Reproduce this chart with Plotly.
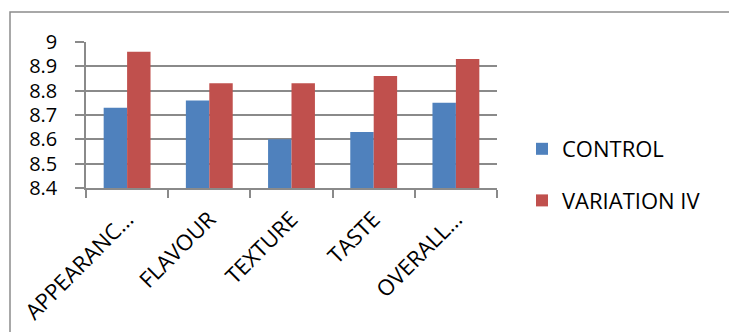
import plotly.graph_objects as go

# Sensory scores per attribute
categories = ["APPEARANC…", "FLAVOUR", "TEXTURE", "TASTE", "OVERALL…"]
control = [8.73, 8.76, 8.60, 8.63, 8.75]
variation_iv = [8.96, 8.83, 8.83, 8.86, 8.93]
y_ticks = [8.4, 8.5, 8.6, 8.7, 8.8, 8.9, 9]
y_tick_text = ["8.4", "8.5", "8.6", "8.7", "8.8", "8.9", "9"]

FONT = "Open Sans"
GRID = "#8a8a8a"

# Plot area in pixels
W, H = 729, 332
L, R, T, B = 86, 497, 42, 188


def px_x(p):
    return (p - L) / (R - L)


def px_y(p):
    return (B - p) / (B - T)


fig = go.Figure()
fig.add_trace(go.Bar(name="CONTROL", x=categories, y=control,
                     marker=dict(color="#4F81BD", line=dict(width=0)),
                     legendgroup="a"))
fig.add_trace(go.Bar(name="VARIATION IV", x=categories, y=variation_iv,
                     marker=dict(color="#C0504D", line=dict(width=0)),
                     legendgroup="b"))

fig.update_layout(
    width=W, height=H,
    margin=dict(l=L, r=W - R, t=T, b=H - B, pad=0, autoexpand=False),
    paper_bgcolor="white", plot_bgcolor="white",
    barmode="group", bargap=0.43, bargroupgap=0,
    font=dict(family=FONT, size=22, color="black"),
    showlegend=True,
    legend=dict(x=px_x(522), xanchor="left", y=px_y(128), yanchor="top",
                font=dict(family=FONT, size=22, color="black"),
                tracegroupgap=20, traceorder="grouped",
                bgcolor="rgba(0,0,0,0)"),
    xaxis=dict(showgrid=False, showline=True, linecolor=GRID, linewidth=1.5,
               ticks="outside", ticklen=8, tickcolor=GRID, tickwidth=1.5,
               tickson="boundaries", tickangle=-45, ticklabelstandoff=8,
               automargin=False,
               tickfont=dict(family=FONT, size=22, color="black")),
    yaxis=dict(range=[8.4, 9], tickvals=y_ticks, ticktext=y_tick_text,
               showgrid=True, gridcolor=GRID, gridwidth=1.5,
               showline=True, linecolor=GRID, linewidth=1.5,
               ticks="outside", ticklen=9, tickcolor=GRID, tickwidth=1.5,
               ticklabelstandoff=14, zeroline=False, automargin=False,
               tickfont=dict(family=FONT, size=20, color="black")),
    shapes=[dict(type="rect", xref="paper", yref="paper",
                 x0=px_x(10), x1=px_x(760), y0=px_y(360), y1=px_y(12),
                 line=dict(color="#8c8c8c", width=1.5), layer="below")],
)

fig.write_html("out.html")
